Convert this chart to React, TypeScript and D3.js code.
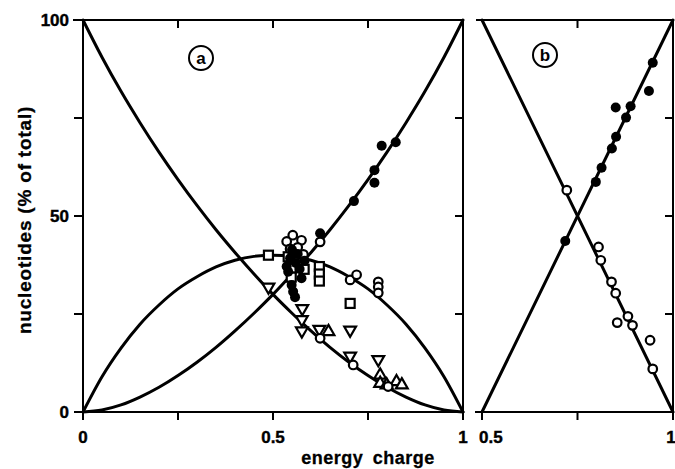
import React from "react";
import * as d3 from "d3";

// theoretical curves (energy charge vs % of total)
const chargeGrid = [0, 0.05, 0.1, 0.15, 0.2, 0.25, 0.3, 0.35, 0.4, 0.45, 0.5, 0.55, 0.6, 0.65, 0.7, 0.75, 0.8, 0.85, 0.9, 0.95, 1];
const atpCurve = [0, 0.5, 1.8, 3.8, 6.3, 9.3, 12.7, 16.5, 20.7, 25.2, 30, 35.2, 40.7, 46.5, 52.7, 59.3, 66.3, 73.8, 81.8, 90.5, 100];
const adpCurve = [0, 9, 16.3, 22.4, 27.3, 31.4, 34.5, 37, 38.7, 39.7, 40, 39.7, 38.7, 37, 34.5, 31.4, 27.3, 22.4, 16.3, 9, 0];
const ampCurve = [100, 90.5, 81.8, 73.8, 66.3, 59.3, 52.7, 46.5, 40.7, 35.2, 30, 25.2, 20.7, 16.5, 12.7, 9.3, 6.3, 3.8, 1.8, 0.5, 0];

// panel a measurements [energy charge, %]
const aFilled = [
  [0.536, 37.1], [0.54, 35.8], [0.549, 32.4], [0.553, 30.7], [0.558, 29.3], [0.545, 39.2],
  [0.56, 38], [0.575, 34.1], [0.57, 36.5], [0.583, 38.6], [0.565, 40.3], [0.55, 41.4],
  [0.624, 45.6], [0.713, 53.8], [0.767, 58.5], [0.767, 61.7], [0.786, 67.9], [0.823, 68.8]
];
const aCircles = [
  [0.552, 45.1], [0.536, 43.5], [0.575, 43.8], [0.624, 43.4], [0.545, 41.6], [0.565, 42],
  [0.58, 40.2], [0.703, 33.7], [0.72, 35], [0.777, 33.2], [0.777, 31.9], [0.777, 30.4],
  [0.624, 18.8], [0.711, 12], [0.803, 6.5]
];
const aSquares = [
  [0.488, 40], [0.54, 39.6], [0.556, 38.4], [0.572, 37.4], [0.548, 36.7], [0.582, 36.4],
  [0.548, 34.4], [0.622, 37.1], [0.622, 35.2], [0.622, 33.4], [0.703, 27.7]
];
const aTriDown = [
  [0.488, 31.9], [0.577, 26.4], [0.576, 23.6], [0.576, 20.7], [0.622, 21.1],
  [0.703, 20.9], [0.703, 14.3], [0.777, 13.4]
];
const aTriUp = [
  [0.646, 20.5], [0.782, 9.4], [0.782, 7.3], [0.799, 6.9], [0.825, 7.7], [0.839, 6.9]
];

// panel b lines and measurements
const bLineX = [0.5, 1];
const bAtpLine = [0, 100];
const bAmpLine = [100, 0];
const bFilled = [
  [0.947, 89.1], [0.937, 81.9], [0.85, 77.7], [0.889, 78], [0.877, 75.1], [0.851, 70.2],
  [0.84, 67.2], [0.813, 62.3], [0.798, 58.7], [0.718, 43.6]
];
const bCircles = [
  [0.722, 56.6], [0.805, 42.1], [0.811, 38.7], [0.839, 33.2], [0.85, 30.3], [0.854, 22.8],
  [0.882, 24.4], [0.894, 22.1], [0.94, 18.3], [0.947, 11]
];

const yTicks = [0, 25, 50, 75, 100];
const yLabels = [0, 50, 100];
const aTicks = [0, 0.25, 0.5, 0.75, 1];
const bTicks = [0.5, 0.75, 1];

const W = 675;
const H = 469;
const top = 20;
const bottom = 412;
const font = "'Liberation Sans', Arial, sans-serif";

export default function App() {
  const y = d3.scaleLinear().domain([0, 100]).range([bottom, top]);
  const xa = d3.scaleLinear().domain([0, 1]).range([83, 463]);
  const xb = d3.scaleLinear().domain([0.5, 1]).range([482, 673]);

  const lineA = (vals: number[]) =>
    d3.line<number>().x((_, i) => xa(chargeGrid[i])).y(v => y(v)).curve(d3.curveMonotoneX)(vals) || "";
  const lineB = (vals: number[]) =>
    d3.line<number>().x((_, i) => xb(bLineX[i])).y(v => y(v))(vals) || "";

  const tri = d3.symbol().type(d3.symbolTriangle).size(60)() || "";

  const ink = "#000";

  return (
    <svg width={W} height={H} style={{ position: "absolute", left: 0, top: 0, background: "#fff" }}>
      {/* panel a frame */}
      <g stroke={ink} strokeWidth={2} fill="none">
        <line x1={73} x2={463} y1={y(100)} y2={y(100)} />
        <line x1={83} x2={463} y1={y(0)} y2={y(0)} />
        <line x1={83} x2={83} y1={y(100)} y2={y(0)} />
        <line x1={463} x2={463} y1={y(100)} y2={y(0)} />
        {yTicks.map(t => (
          <line key={"al" + t} x1={74} x2={83} y1={y(t)} y2={y(t)} />
        ))}
        {yTicks.slice(1, 4).map(t => (
          <line key={"ar" + t} x1={455} x2={463} y1={y(t)} y2={y(t)} />
        ))}
        {aTicks.map(t => (
          <line key={"ab" + t} x1={xa(t)} x2={xa(t)} y1={y(0)} y2={y(0) + 8} />
        ))}
        {aTicks.slice(1, 4).map(t => (
          <line key={"at" + t} x1={xa(t)} x2={xa(t)} y1={y(100)} y2={y(100) + 8} />
        ))}
      </g>

      {/* panel b frame (no left axis) */}
      <g stroke={ink} strokeWidth={2} fill="none">
        <line x1={476} x2={673} y1={y(100)} y2={y(100)} />
        <line x1={475} x2={673} y1={y(0)} y2={y(0)} />
        <line x1={673} x2={673} y1={y(100)} y2={y(0)} />
        {yTicks.slice(1, 4).map(t => (
          <line key={"br" + t} x1={665} x2={673} y1={y(t)} y2={y(t)} />
        ))}
        {bTicks.map(t => (
          <line key={"bb" + t} x1={xb(t)} x2={xb(t)} y1={y(0)} y2={y(0) + 8} />
        ))}
        <line x1={xb(0.75)} x2={xb(0.75)} y1={y(100)} y2={y(100) + 8} />
      </g>

      {/* curves */}
      <g stroke={ink} strokeWidth={3} fill="none" strokeLinecap="round">
        <path d={lineA(atpCurve)} />
        <path d={lineA(adpCurve)} />
        <path d={lineA(ampCurve)} />
        <path d={lineB(bAtpLine)} />
        <path d={lineB(bAmpLine)} />
      </g>

      {/* panel a markers */}
      <g stroke={ink} strokeWidth={2.2} fill="#fff">
        {aSquares.map((d, i) => (
          <rect key={"s" + i} x={xa(d[0]) - 4.5} y={y(d[1]) - 4.5} width={9} height={9} />
        ))}
        {aTriDown.map((d, i) => (
          <path key={"td" + i} d={tri} transform={`translate(${xa(d[0])},${y(d[1])}) rotate(180)`} />
        ))}
        {aTriUp.map((d, i) => (
          <path key={"tu" + i} d={tri} transform={`translate(${xa(d[0])},${y(d[1])})`} />
        ))}
        {aCircles.map((d, i) => (
          <circle key={"c" + i} cx={xa(d[0])} cy={y(d[1])} r={4.3} />
        ))}
        {aFilled.map((d, i) => (
          <circle key={"f" + i} cx={xa(d[0])} cy={y(d[1])} r={5} fill={ink} stroke="none" />
        ))}
      </g>

      {/* panel b markers */}
      <g stroke={ink} strokeWidth={2.2} fill="#fff">
        {bCircles.map((d, i) => (
          <circle key={"bc" + i} cx={xb(d[0])} cy={y(d[1])} r={4.3} />
        ))}
        {bFilled.map((d, i) => (
          <circle key={"bf" + i} cx={xb(d[0])} cy={y(d[1])} r={5} fill={ink} stroke="none" />
        ))}
      </g>

      {/* panel tags */}
      <g fontFamily={font} fontWeight="bold" fontSize={17} textAnchor="middle">
        <circle cx={201} cy={58} r={12} fill="none" stroke={ink} strokeWidth={2} />
        <text x={201} y={64}>a</text>
        <circle cx={545} cy={55} r={12} fill="none" stroke={ink} strokeWidth={2} />
        <text x={545} y={61}>b</text>
      </g>

      {/* tick labels */}
      <g fontFamily={font} fontWeight="bold" fontSize={17} fill={ink} stroke={ink} strokeWidth={0.4}>
        {yLabels.map(t => (
          <text key={"yl" + t} x={69} y={y(t) + 6} textAnchor="end">{t}</text>
        ))}
        <text x={xa(0)} y={443} textAnchor="middle">0</text>
        <text x={xa(0.5)} y={443} textAnchor="middle">0.5</text>
        <text x={xa(1)} y={443} textAnchor="middle">1</text>
        <text x={479} y={443} textAnchor="start">0.5</text>
        <text x={671} y={443} textAnchor="middle">1</text>
      </g>

      {/* axis titles */}
      <text x={368} y={464} textAnchor="middle" fontFamily={font} fontWeight="bold" fontSize={18}
        letterSpacing={0.5} wordSpacing={4} stroke={ink} strokeWidth={0.3}>energy charge</text>
      <text transform={`translate(31,220) rotate(-90)`} textAnchor="middle" fontFamily={font}
        fontWeight="bold" fontSize={19} letterSpacing={0.8} stroke={ink} strokeWidth={0.3}>nucleotides (% of total)</text>
    </svg>
  );
}
